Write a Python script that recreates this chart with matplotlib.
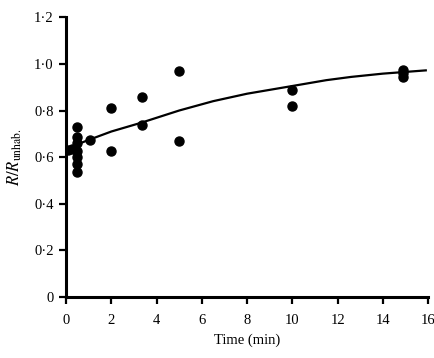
import matplotlib
matplotlib.use("Agg")
import matplotlib.pyplot as plt

# Data points
time_pts = [0.1, 0.25, 0.5, 0.5, 0.5, 0.5, 0.5, 0.5, 0.5, 1.05,
            2.0, 2.0, 3.35, 3.35, 5.0, 5.0, 10.0, 10.0, 14.9, 14.9, 14.9]
ratio_pts = [0.63, 0.635, 0.73, 0.685, 0.66, 0.625, 0.60, 0.57, 0.535, 0.675,
             0.81, 0.625, 0.86, 0.74, 0.97, 0.67, 0.89, 0.82, 0.975, 0.96, 0.945]

# Fitted curve
curve_t = [0, 0.5, 1.0, 2, 3.3, 5, 6.5, 8, 10, 11.5, 12.6, 14, 15.9]
curve_y = [0.635, 0.655, 0.674, 0.71, 0.747, 0.80, 0.84, 0.872, 0.905, 0.93, 0.944, 0.958, 0.972]

xticks = [0, 2, 4, 6, 8, 10, 12, 14, 16]
yticks = [0, 0.2, 0.4, 0.6, 0.8, 1.0, 1.2]
ytick_labels = ["0", "0·2", "0·4", "0·6", "0·8", "1·0", "1·2"]

plt.rcParams['font.family'] = ['Liberation Serif', 'DejaVu Serif']
plt.rcParams['mathtext.fontset'] = 'stix'

fig = plt.figure(figsize=(4.35, 3.58), dpi=100)
ax = fig.add_axes([0.152, 0.170, 0.832, 0.782])

ax.plot(curve_t, curve_y, color='black', lw=1.6, zorder=2)
ax.plot(time_pts, ratio_pts, 'o', color='black', ms=6.5, zorder=3)

ax.set_xlim(0, 16)
ax.set_ylim(0, 1.2)
ax.set_xticks(xticks)
ax.set_xticklabels([str(v) for v in xticks])
ax.set_yticks(yticks)
ax.set_yticklabels(ytick_labels)

for s in ['top', 'right']:
    ax.spines[s].set_visible(False)
for s in ['left', 'bottom']:
    ax.spines[s].set_linewidth(2.2)

ax.tick_params(axis='both', direction='out', length=5, width=1.6, labelsize=10.5)
ax.tick_params(axis='x', pad=7)
ax.tick_params(axis='y', pad=4)

ax.set_xlabel('Time (min)', fontsize=10.5, labelpad=5)
ax.set_ylabel(r'$R/R_{\mathrm{unhab.}}$', fontsize=12, labelpad=7)

fig.savefig('out.png', dpi=100)
